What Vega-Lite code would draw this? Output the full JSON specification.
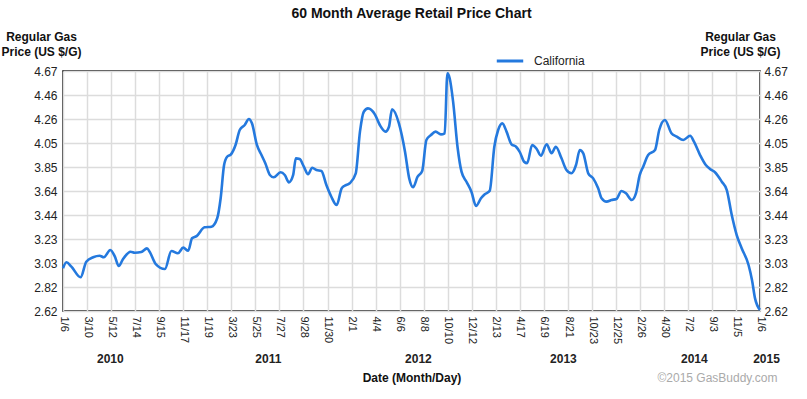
{
  "$schema": "https://vega.github.io/schema/vega-lite/v6.json",
  "width": 697,
  "height": 240,
  "autosize": {"type": "none"},
  "padding": {"left": 63, "top": 71, "right": 47, "bottom": 88},
  "background": "white",
  "view": {"stroke": "#000000", "strokeWidth": 1.5},
  "config": {
    "font": "Liberation Sans",
    "axis": {"labelColor": "#222222", "titleColor": "#111111", "labelFontSize": 12, "titleFontSize": 12, "titleFontWeight": "bold", "domain": false, "ticks": false}
  },
  "title": {"text": "60 Month Average Retail Price Chart", "font": "Liberation Sans", "fontSize": 14, "fontWeight": "bold", "color": "#111111", "anchor": "middle", "offset": 9},
  "data": {"values": [
    {"date": "2010-01-06", "price": 2.985},
    {"date": "2010-01-15", "price": 3.036},
    {"date": "2010-01-28", "price": 2.999},
    {"date": "2010-02-21", "price": 2.908},
    {"date": "2010-03-08", "price": 3.041},
    {"date": "2010-03-26", "price": 3.079},
    {"date": "2010-04-12", "price": 3.092},
    {"date": "2010-04-23", "price": 3.079},
    {"date": "2010-05-10", "price": 3.141},
    {"date": "2010-05-22", "price": 3.084},
    {"date": "2010-06-01", "price": 3.004},
    {"date": "2010-06-12", "price": 3.062},
    {"date": "2010-07-02", "price": 3.126},
    {"date": "2010-07-13", "price": 3.118},
    {"date": "2010-07-30", "price": 3.124},
    {"date": "2010-08-14", "price": 3.155},
    {"date": "2010-08-21", "price": 3.126},
    {"date": "2010-09-06", "price": 3.021},
    {"date": "2010-09-30", "price": 2.979},
    {"date": "2010-10-17", "price": 3.133},
    {"date": "2010-11-03", "price": 3.113},
    {"date": "2010-11-17", "price": 3.161},
    {"date": "2010-11-30", "price": 3.135},
    {"date": "2010-12-10", "price": 3.241},
    {"date": "2010-12-22", "price": 3.26},
    {"date": "2011-01-12", "price": 3.335},
    {"date": "2011-01-30", "price": 3.34},
    {"date": "2011-02-14", "price": 3.412},
    {"date": "2011-02-23", "price": 3.583},
    {"date": "2011-03-04", "price": 3.867},
    {"date": "2011-03-12", "price": 3.938},
    {"date": "2011-03-22", "price": 3.958},
    {"date": "2011-04-03", "price": 4.038},
    {"date": "2011-04-14", "price": 4.166},
    {"date": "2011-04-27", "price": 4.209},
    {"date": "2011-05-08", "price": 4.26},
    {"date": "2011-05-16", "price": 4.223},
    {"date": "2011-05-29", "price": 4.038},
    {"date": "2011-06-10", "price": 3.952},
    {"date": "2011-06-20", "price": 3.882},
    {"date": "2011-07-02", "price": 3.782},
    {"date": "2011-07-12", "price": 3.762},
    {"date": "2011-07-30", "price": 3.805},
    {"date": "2011-08-10", "price": 3.782},
    {"date": "2011-08-21", "price": 3.719},
    {"date": "2011-09-01", "price": 3.782},
    {"date": "2011-09-08", "price": 3.924},
    {"date": "2011-09-18", "price": 3.918},
    {"date": "2011-09-29", "price": 3.853},
    {"date": "2011-10-10", "price": 3.788},
    {"date": "2011-10-21", "price": 3.844},
    {"date": "2011-11-01", "price": 3.824},
    {"date": "2011-11-14", "price": 3.816},
    {"date": "2011-11-27", "price": 3.696},
    {"date": "2011-12-10", "price": 3.596},
    {"date": "2011-12-24", "price": 3.525},
    {"date": "2012-01-06", "price": 3.668},
    {"date": "2012-01-14", "price": 3.69},
    {"date": "2012-01-27", "price": 3.711},
    {"date": "2012-02-12", "price": 3.796},
    {"date": "2012-02-23", "price": 4.152},
    {"date": "2012-03-04", "price": 4.322},
    {"date": "2012-03-15", "price": 4.351},
    {"date": "2012-04-02", "price": 4.3},
    {"date": "2012-04-15", "price": 4.209},
    {"date": "2012-04-30", "price": 4.152},
    {"date": "2012-05-09", "price": 4.194},
    {"date": "2012-05-17", "price": 4.343},
    {"date": "2012-06-04", "price": 4.223},
    {"date": "2012-06-20", "price": 3.981},
    {"date": "2012-07-01", "price": 3.753},
    {"date": "2012-07-11", "price": 3.677},
    {"date": "2012-07-23", "price": 3.767},
    {"date": "2012-08-04", "price": 3.816},
    {"date": "2012-08-15", "price": 4.081},
    {"date": "2012-08-27", "price": 4.123},
    {"date": "2012-09-08", "price": 4.152},
    {"date": "2012-09-22", "price": 4.129},
    {"date": "2012-10-02", "price": 4.138},
    {"date": "2012-10-09", "price": 4.65},
    {"date": "2012-10-15", "price": 4.608},
    {"date": "2012-10-24", "price": 4.408},
    {"date": "2012-11-05", "price": 4.01},
    {"date": "2012-11-15", "price": 3.81},
    {"date": "2012-11-28", "price": 3.724},
    {"date": "2012-12-11", "price": 3.639},
    {"date": "2012-12-23", "price": 3.517},
    {"date": "2013-01-05", "price": 3.583},
    {"date": "2013-01-15", "price": 3.617},
    {"date": "2013-01-28", "price": 3.648},
    {"date": "2013-02-09", "price": 4.023},
    {"date": "2013-02-19", "price": 4.166},
    {"date": "2013-03-02", "price": 4.223},
    {"date": "2013-03-13", "price": 4.152},
    {"date": "2013-03-26", "price": 4.044},
    {"date": "2013-04-07", "price": 4.023},
    {"date": "2013-04-17", "price": 3.976},
    {"date": "2013-04-28", "price": 3.895},
    {"date": "2013-05-06", "price": 3.882},
    {"date": "2013-05-19", "price": 4.038},
    {"date": "2013-05-31", "price": 4.004},
    {"date": "2013-06-11", "price": 3.947},
    {"date": "2013-06-26", "price": 4.044},
    {"date": "2013-07-09", "price": 3.967},
    {"date": "2013-07-20", "price": 4.023},
    {"date": "2013-08-04", "price": 3.924},
    {"date": "2013-08-17", "price": 3.824},
    {"date": "2013-08-30", "price": 3.796},
    {"date": "2013-09-11", "price": 3.867},
    {"date": "2013-09-21", "price": 3.995},
    {"date": "2013-09-30", "price": 3.967},
    {"date": "2013-10-13", "price": 3.796},
    {"date": "2013-10-26", "price": 3.753},
    {"date": "2013-11-08", "price": 3.668},
    {"date": "2013-11-17", "price": 3.583},
    {"date": "2013-11-30", "price": 3.554},
    {"date": "2013-12-13", "price": 3.568},
    {"date": "2013-12-26", "price": 3.577},
    {"date": "2014-01-08", "price": 3.645},
    {"date": "2014-01-20", "price": 3.625},
    {"date": "2014-02-04", "price": 3.568},
    {"date": "2014-02-15", "price": 3.625},
    {"date": "2014-02-25", "price": 3.782},
    {"date": "2014-03-06", "price": 3.853},
    {"date": "2014-03-19", "price": 3.952},
    {"date": "2014-04-06", "price": 3.995},
    {"date": "2014-04-17", "price": 4.166},
    {"date": "2014-05-02", "price": 4.252},
    {"date": "2014-05-19", "price": 4.138},
    {"date": "2014-06-02", "price": 4.109},
    {"date": "2014-06-19", "price": 4.081},
    {"date": "2014-07-07", "price": 4.117},
    {"date": "2014-07-17", "price": 4.066},
    {"date": "2014-08-02", "price": 3.952},
    {"date": "2014-08-17", "price": 3.867},
    {"date": "2014-08-28", "price": 3.833},
    {"date": "2014-09-10", "price": 3.805},
    {"date": "2014-09-28", "price": 3.724},
    {"date": "2014-10-11", "price": 3.653},
    {"date": "2014-10-24", "price": 3.44},
    {"date": "2014-11-06", "price": 3.269},
    {"date": "2014-11-19", "price": 3.156},
    {"date": "2014-12-07", "price": 3.013},
    {"date": "2014-12-16", "price": 2.885},
    {"date": "2014-12-24", "price": 2.728},
    {"date": "2015-01-06", "price": 2.63}
  ]},
  "resolve": {"axis": {"x": "independent", "y": "independent"}},
  "layer": [
    {
      "mark": {"type": "line", "interpolate": "monotone", "strokeWidth": 2.6},
      "encoding": {
        "x": {
          "field": "date", "type": "temporal",
          "scale": {"type": "utc", "domain": [{"year": 2010, "month": 1, "date": 6, "utc": true}, {"year": 2015, "month": 1, "date": 6, "utc": true}]},
          "axis": {
            "orient": "bottom",
            "values": [
              {"year": 2010, "month": 1, "date": 6, "utc": true},
              {"year": 2010, "month": 3, "date": 10, "utc": true},
              {"year": 2010, "month": 5, "date": 12, "utc": true},
              {"year": 2010, "month": 7, "date": 14, "utc": true},
              {"year": 2010, "month": 9, "date": 15, "utc": true},
              {"year": 2010, "month": 11, "date": 17, "utc": true},
              {"year": 2011, "month": 1, "date": 19, "utc": true},
              {"year": 2011, "month": 3, "date": 23, "utc": true},
              {"year": 2011, "month": 5, "date": 25, "utc": true},
              {"year": 2011, "month": 7, "date": 27, "utc": true},
              {"year": 2011, "month": 9, "date": 28, "utc": true},
              {"year": 2011, "month": 11, "date": 30, "utc": true},
              {"year": 2012, "month": 2, "date": 1, "utc": true},
              {"year": 2012, "month": 4, "date": 4, "utc": true},
              {"year": 2012, "month": 6, "date": 6, "utc": true},
              {"year": 2012, "month": 8, "date": 8, "utc": true},
              {"year": 2012, "month": 10, "date": 10, "utc": true},
              {"year": 2012, "month": 12, "date": 12, "utc": true},
              {"year": 2013, "month": 2, "date": 13, "utc": true},
              {"year": 2013, "month": 4, "date": 17, "utc": true},
              {"year": 2013, "month": 6, "date": 19, "utc": true},
              {"year": 2013, "month": 8, "date": 21, "utc": true},
              {"year": 2013, "month": 10, "date": 23, "utc": true},
              {"year": 2013, "month": 12, "date": 25, "utc": true},
              {"year": 2014, "month": 2, "date": 26, "utc": true},
              {"year": 2014, "month": 4, "date": 30, "utc": true},
              {"year": 2014, "month": 7, "date": 2, "utc": true},
              {"year": 2014, "month": 9, "date": 3, "utc": true},
              {"year": 2014, "month": 11, "date": 5, "utc": true},
              {"year": 2015, "month": 1, "date": 6, "utc": true}
            ],
            "format": "%-m/%-d",
            "labelAngle": 90,
            "labelAlign": "left",
            "labelBaseline": "middle",
            "labelPadding": 5,
            "labelFontSize": 11,
            "labelOverlap": false,
            "grid": true, "gridColor": "#dcdcdc", "gridWidth": 1.5,
            "title": "Date (Month/Day)",
            "titlePadding": 29
          }
        },
        "y": {
          "field": "price", "type": "quantitative",
          "scale": {"domain": [2.62, 4.67], "nice": false, "zero": false},
          "axis": {
            "orient": "left",
            "values": [2.62, 2.8249, 3.03, 3.2349, 3.44, 3.6449, 3.85, 4.0549, 4.26, 4.4649, 4.67],
            "format": ".2f",
            "labelPadding": 6,
            "grid": true, "gridColor": "#dcdcdc", "gridWidth": 1.5,
            "title": ["Regular Gas", "Price (US $/G)"],
            "titleAngle": 0, "titleAlign": "center", "titleBaseline": "top",
            "titleX": -22, "titleY": -40, "titleLineHeight": 15
          }
        },
        "color": {
          "datum": "California",
          "scale": {"range": ["#2479de"]},
          "legend": {
            "title": null, "orient": "none", "legendX": 432, "legendY": -25,
            "symbolType": "stroke", "symbolSize": 700, "symbolStrokeWidth": 3,
            "labelFontSize": 12, "labelColor": "#222222", "labelOffset": 9
          }
        }
      }
    },
    {
      "mark": {"type": "line", "opacity": 0},
      "encoding": {
        "x": {
          "field": "date", "type": "temporal",
          "axis": {
            "orient": "bottom",
            "values": [
              {"year": 2010, "month": 4, "date": 23, "utc": true},
              {"year": 2011, "month": 6, "date": 11, "utc": true},
              {"year": 2012, "month": 7, "date": 8, "utc": true},
              {"year": 2013, "month": 7, "date": 23, "utc": true},
              {"year": 2014, "month": 7, "date": 1, "utc": true},
              {"year": 2015, "month": 1, "date": 6, "utc": true}
            ],
            "format": "%Y",
            "labelAngle": 0,
            "labelFontWeight": "bold",
            "labelFontSize": 12,
            "labelOffset": 6,
            "labelPadding": 2,
            "labelOverlap": false,
            "labelBound": false,
            "labelFlush": false,
            "offset": 40,
            "grid": false,
            "title": "©2015 GasBuddy.com",
            "titleFontWeight": "normal",
            "titleColor": "#aaaaaa",
            "titleAnchor": "end",
            "titleAlign": "right",
            "titleX": 714,
            "titleY": 26,
            "titleBaseline": "middle"
          }
        },
        "y": {
          "field": "price", "type": "quantitative",
          "axis": {
            "orient": "right",
            "values": [2.62, 2.8249, 3.03, 3.2349, 3.44, 3.6449, 3.85, 4.0549, 4.26, 4.4649, 4.67],
            "format": ".2f",
            "labelPadding": 4,
            "grid": false,
            "title": ["Regular Gas", "Price (US $/G)"],
            "titleAngle": 0, "titleAlign": "center", "titleBaseline": "top",
            "titleX": -20, "titleY": -40, "titleLineHeight": 15
          }
        }
      }
    }
  ]
}
